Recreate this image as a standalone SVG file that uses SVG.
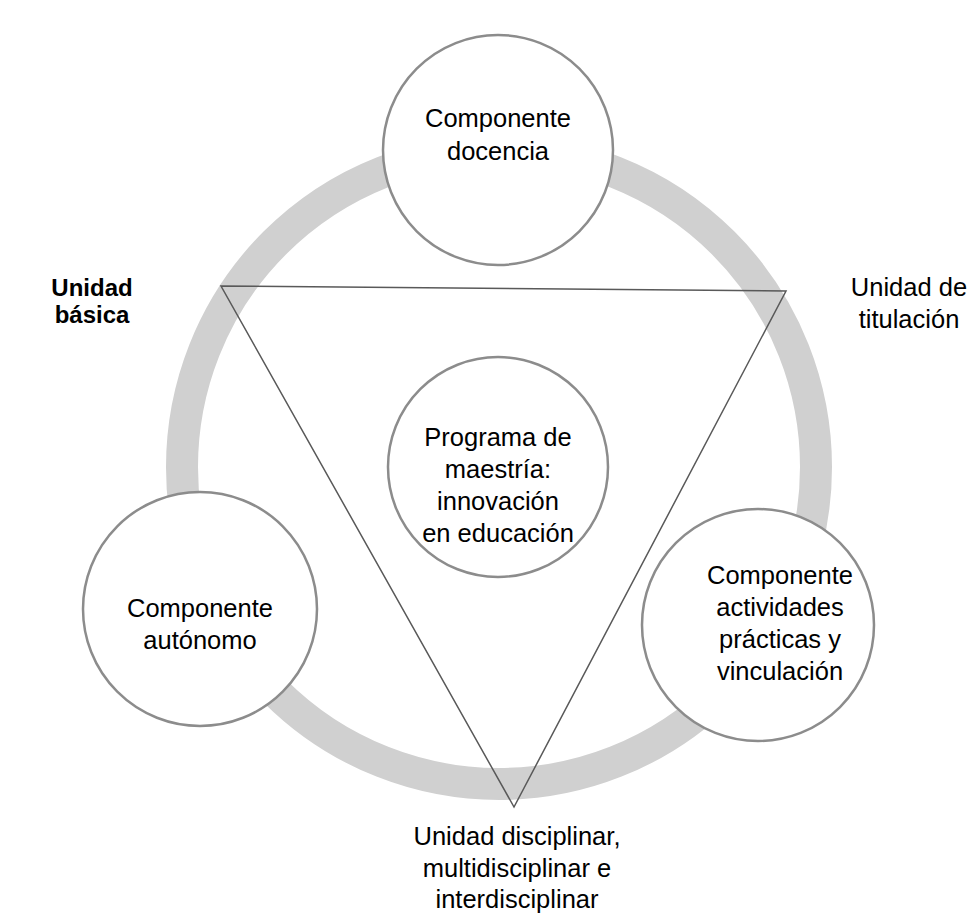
<svg xmlns="http://www.w3.org/2000/svg" width="975" height="914" viewBox="0 0 975 914">
<style>
.node{fill:#ffffff;stroke:#8c8c8c;stroke-width:2.5}
.t{font-family:"Liberation Sans",Arial,sans-serif;font-size:25.5px;fill:#000;text-anchor:middle}
.b{font-weight:bold;font-size:24px}
.ring{fill:none;stroke:#d0d0d0;stroke-width:32}
.tri{fill:none;stroke:#595959;stroke-width:1.5;stroke-linejoin:miter}
</style>
<rect width="975" height="914" fill="#ffffff"/>
<g id="ring"><circle class="ring" cx="499" cy="467" r="317"/></g>
<g id="connectors"><polygon class="tri" points="221,286 786,291 514,807"/></g>
<g id="n-docencia"><circle class="node" cx="498" cy="150" r="115"/>
<text class="t" x="498" y="127">Componente</text><text class="t" x="498" y="160">docencia</text></g>
<g id="n-centro"><circle class="node" cx="498" cy="467" r="110"/>
<text class="t" x="498" y="446">Programa de</text><text class="t" x="498" y="478">maestría:</text><text class="t" x="498" y="510">innovación</text><text class="t" x="498" y="542">en educación</text></g>
<g id="n-autonomo"><circle class="node" cx="200" cy="609" r="117"/>
<text class="t" x="200" y="617">Componente</text><text class="t" x="200" y="649">autónomo</text></g>
<g id="n-practicas"><circle class="node" cx="758" cy="625" r="116"/>
<text class="t" x="780" y="584">Componente</text><text class="t" x="780" y="616">actividades</text><text class="t" x="780" y="648">prácticas y</text><text class="t" x="780" y="680">vinculación</text></g>
<g id="l-basica"><text class="t b" x="92" y="296">Unidad</text><text class="t b" x="92" y="323">básica</text></g>
<g id="l-titulacion"><text class="t" x="909" y="296">Unidad de</text><text class="t" x="909" y="328">titulación</text></g>
<g id="l-disciplinar"><text class="t" x="517" y="845">Unidad disciplinar,</text><text class="t" x="517" y="877">multidisciplinar e</text><text class="t" x="517" y="908">interdisciplinar</text></g>
</svg>
